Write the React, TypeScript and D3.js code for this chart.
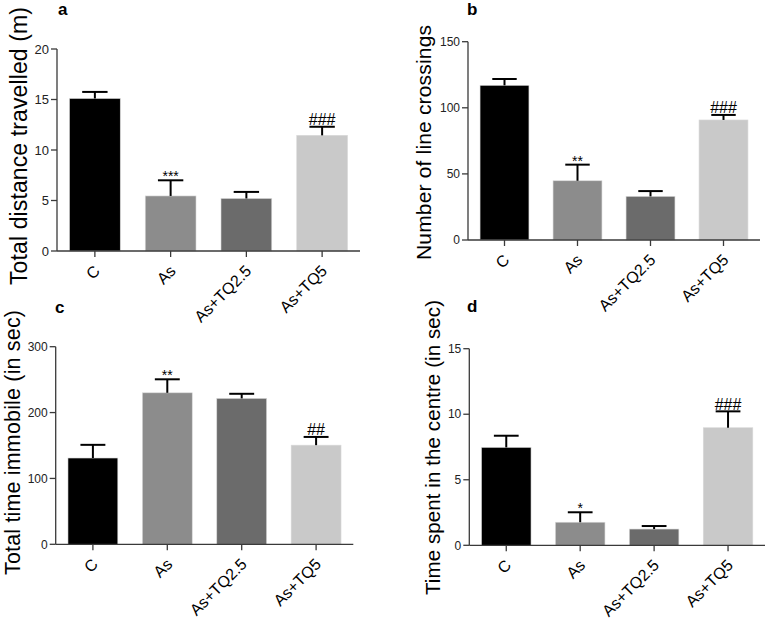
import React from "react";
import * as d3 from "d3";

const categories = ["C", "As", "As+TQ2.5", "As+TQ5"];
const barColors = ["#000000", "#8c8c8c", "#6b6b6b", "#c9c9c9"];

const distanceMean = [15.1, 5.45, 5.2, 11.45];
const distanceErr = [15.75, 7.0, 5.85, 12.3];
const distanceMarks = ["", "***", "", "###"];
const distanceTicks = [0, 5, 10, 15, 20];

const crossingsMean = [117, 44.8, 33, 90.8];
const crossingsErr = [121.8, 57, 37, 94.6];
const crossingsMarks = ["", "**", "", "###"];
const crossingsTicks = [0, 50, 100, 150];

const immobileMean = [131, 230, 221.5, 150.5];
const immobileErr = [151, 250.5, 228.5, 163];
const immobileMarks = ["", "**", "", "##"];
const immobileTicks = [0, 100, 200, 300];

const centreMean = [7.47, 1.76, 1.24, 8.97];
const centreErr = [8.36, 2.52, 1.47, 10.22];
const centreMarks = ["", "*", "", "###"];
const centreTicks = [0, 5, 10, 15];

const FONT = "'Liberation Sans', Arial, Helvetica, sans-serif";

type PanelProps = {
  letter: string;
  letterX: number;
  letterY: number;
  title: string;
  titleX: number;
  titleY: number;
  titleSize: number;
  titleLen: number;
  x0: number;
  x1: number;
  y0: number;
  yTop: number;
  yMax: number;
  ticks: number[];
  means: number[];
  errs: number[];
  marks: string[];
  tickSize: number;
};

function Panel(p: PanelProps) {
  const x = d3
    .scaleBand<string>()
    .domain(categories)
    .range([p.x0, p.x1])
    .paddingInner(0.33)
    .paddingOuter(0.165);
  const y = d3.scaleLinear().domain([0, p.yMax]).range([p.y0, p.yTop]);
  const bw = x.bandwidth();
  const axisColor = "#3a3a3a";
  return (
    <g>
      <text
        x={p.letterX}
        y={p.letterY}
        fontFamily={FONT}
        fontWeight="bold"
        fontSize={17}
        fill="#000"
      >
        {p.letter}
      </text>
      <text
        transform={`translate(${p.titleX},${p.titleY}) rotate(-90)`}
        textAnchor="middle"
        fontFamily={FONT}
        fontSize={p.titleSize}
        textLength={p.titleLen}
        lengthAdjust="spacing"
        fill="#000"
      >
        {p.title}
      </text>
      {categories.map((c, i) => (
        <rect
          key={"bar" + c}
          x={x(c)}
          y={y(p.means[i])}
          width={bw}
          height={p.y0 - y(p.means[i])}
          fill={barColors[i]}
          stroke="#d8d8d8"
          strokeWidth={0.6}
        />
      ))}
      {categories.map((c, i) => {
        const cx = (x(c) as number) + bw / 2;
        return (
          <g key={"err" + c}>
            <line x1={cx} x2={cx} y1={y(p.means[i])} y2={y(p.errs[i])} stroke="#000" strokeWidth={2} />
            <line x1={cx - bw / 4} x2={cx + bw / 4} y1={y(p.errs[i])} y2={y(p.errs[i])} stroke="#000" strokeWidth={2} />
          </g>
        );
      })}
      {categories.map((c, i) => {
        const cx = (x(c) as number) + bw / 2;
        const m = p.marks[i];
        if (!m) return null;
        const isStar = m.indexOf("*") >= 0;
        return (
          <text
            key={"mk" + c}
            x={cx}
            y={y(p.errs[i]) + (isStar ? 1 : -1.5)}
            textAnchor="middle"
            fontFamily={FONT}
            fontSize={isStar ? 14 : 16}
            fill="#000"
          >
            {m}
          </text>
        );
      })}
      <line x1={p.x0} x2={p.x0} y1={p.yTop} y2={p.y0} stroke={axisColor} strokeWidth={1.3} />
      <line x1={p.x0} x2={p.x1} y1={p.y0} y2={p.y0} stroke={axisColor} strokeWidth={1.3} />
      {p.ticks.map((t) => (
        <g key={"yt" + t}>
          <line x1={p.x0 - 6} x2={p.x0} y1={y(t)} y2={y(t)} stroke={axisColor} strokeWidth={1.3} />
          <text
            x={p.x0 - 8}
            y={y(t)}
            dy="0.35em"
            textAnchor="end"
            fontFamily={FONT}
            fontSize={p.tickSize}
            fill="#222"
          >
            {t}
          </text>
        </g>
      ))}
      {categories.map((c) => {
        const cx = (x(c) as number) + bw / 2;
        return (
          <g key={"xt" + c}>
            <line x1={cx} x2={cx} y1={p.y0} y2={p.y0 + 6} stroke={axisColor} strokeWidth={1.3} />
            <text
              transform={`translate(${cx + 6},${p.y0 + 21}) rotate(-45)`}
              textAnchor="end"
              fontFamily={FONT}
              fontSize={16}
              fill="#000"
            >
              {c}
            </text>
          </g>
        );
      })}
    </g>
  );
}

export default function App() {
  return (
    <svg
      width={767}
      height={618}
      style={{ position: "absolute", left: 0, top: 0, background: "#fff" }}
    >
      <rect x={0} y={0} width={767} height={618} fill="#fff" />
      <Panel
        letter="a" letterX={58} letterY={15}
        title="Total distance travelled (m)" titleX={27} titleY={146} titleSize={23} titleLen={278}
        x0={57} x1={360} y0={251} yTop={49} yMax={20}
        ticks={distanceTicks} means={distanceMean} errs={distanceErr} marks={distanceMarks}
        tickSize={13}
      />
      <Panel
        letter="b" letterX={467} letterY={15}
        title="Number of line crossings" titleX={431} titleY={142.5} titleSize={21} titleLen={235}
        x0={468} x1={760} y0={240} yTop={41.7} yMax={150}
        ticks={crossingsTicks} means={crossingsMean} errs={crossingsErr} marks={crossingsMarks}
        tickSize={12}
      />
      <Panel
        letter="c" letterX={55} letterY={313}
        title="Total time immobile (in sec)" titleX={20} titleY={442.5} titleSize={21.5} titleLen={265}
        x0={55.7} x1={353.3} y0={544.3} yTop={346.7} yMax={300}
        ticks={immobileTicks} means={immobileMean} errs={immobileErr} marks={immobileMarks}
        tickSize={12}
      />
      <Panel
        letter="d" letterX={467} letterY={312}
        title="Time spent in the centre (in sec)" titleX={440} titleY={447.5} titleSize={20.5} titleLen={295}
        x0={469.3} x1={765} y0={545.3} yTop={348.7} yMax={15}
        ticks={centreTicks} means={centreMean} errs={centreErr} marks={centreMarks}
        tickSize={12}
      />
    </svg>
  );
}
